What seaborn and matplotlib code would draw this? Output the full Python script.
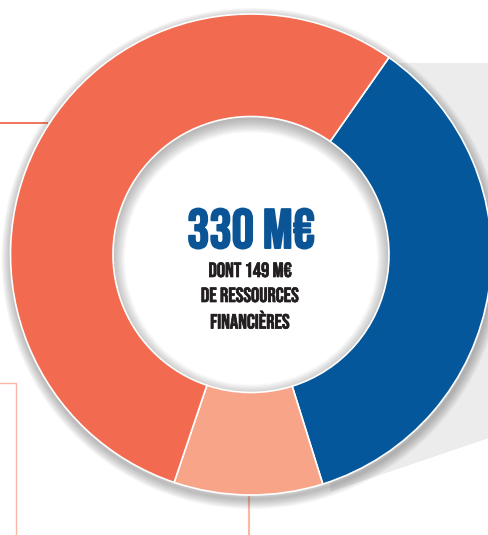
import numpy as np
import matplotlib
matplotlib.use("Agg")
import matplotlib.pyplot as plt
import matplotlib.patheffects as pe
from matplotlib.patches import Wedge, Polygon, Circle
import seaborn as sns

# Segment values (M€), clockwise from the top-right
segments = ["Ressources A", "Ressources B", "Autres"]
values = [117, 33, 180]
palette = ["#03579a", "#f7a488", "#f26b50"]

total_label = "330 M€"
sub_lines = ["DONT 149 M€", "DE RESSOURCES", "FINANCIÈRES"]

sns.set_theme(style="white")
plt.rcParams['font.family'] = ['Bebas Neue', 'DejaVu Sans']

W, H = 489, 535
fig = plt.figure(figsize=(W / 100, H / 100), dpi=100)
ax = fig.add_axes([0, 0, 1, 1])

def py(y):  # top-based pixel -> data y
    return H - y

cx, cy = 251, py(254.5)
R, r = 240.5, 138

# grey panel behind the ring
ax.add_patch(Polygon([(350, py(63)), (W, py(63)), (W, py(438)), (330, py(492))],
                     closed=True, color="#ececec", lw=0, zorder=0))

# callout leader lines
ax.plot([0, 48], [py(122.7), py(122.7)], color="#f06a4f", lw=1.3, zorder=1,
        solid_capstyle="butt")
ax.plot([0, 15.7, 15.7], [py(383), py(383), 0], color="#f8b8a4", lw=1.0, zorder=1)
ax.plot([248.7, 248.7], [py(497), 0], color="#f8b8a4", lw=1.6, zorder=1)

# soft drop shadow around the ring
for k in range(10):
    ax.add_patch(Wedge((cx + 1, cy - 4), R + 10 - k, 0, 360, width=11,
                       color="#444444", alpha=0.04, lw=0, zorder=1))

# white hole, then a soft inner shadow
ax.add_patch(Circle((cx, cy), r + 2, color="white", lw=0, zorder=1.2))
for k in range(14):
    ax.add_patch(Wedge((cx, cy - 4), r + 4, 0, 360, width=3 + k,
                       color="#666666", alpha=0.04, lw=0, zorder=1.5))

ax.pie(values, colors=palette, startangle=55, counterclock=False,
       center=(cx, cy), radius=R, frame=True,
       wedgeprops=dict(width=R - r, edgecolor="white", linewidth=1.2, zorder=2))
ax.set_xlim(0, W)
ax.set_ylim(0, H)
ax.set_aspect("equal")
ax.axis("off")

ax.text(cx, py(228.5), total_label, ha="center", va="center", fontsize=40,
        color="#0b5596", zorder=4,
        path_effects=[pe.withStroke(linewidth=1.4, foreground="#0b5596")])
for i, line in enumerate(sub_lines):
    ax.text(cx - 1, py(269.5 + 25 * i), line, ha="center", va="center", fontsize=14.8,
            color="#231f20", zorder=4,
            path_effects=[pe.withStroke(linewidth=0.5, foreground="#231f20")])

fig.savefig("out.png", dpi=100)
